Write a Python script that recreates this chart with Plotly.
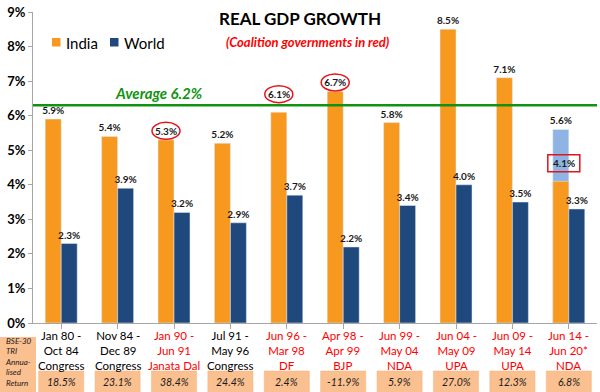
import plotly.graph_objects as go

periods = ["Jan 80 -<br>Oct 84<br>Congress", "Nov 84 -<br>Dec 89<br>Congress",
           "Jan 90 -<br>Jun 91<br>Janata Dal", "Jul 91 -<br>May 96<br>Congress",
           "Jun 96 -<br>Mar 98<br>DF", "Apr 98 -<br>Apr 99<br>BJP",
           "Jun 99 -<br>May 04<br>NDA", "Jun 04 -<br>May 09<br>UPA",
           "Jun 09 -<br>May 14<br>UPA", "Jun 14 -<br>Jun 20*<br>NDA"]
coalition = [False, False, True, False, True, True, True, True, True, True]
india = [5.9, 5.4, 5.3, 5.2, 6.1, 6.7, 5.8, 8.5, 7.1, 4.1]
india_est_last = 5.6
world = [2.3, 3.9, 3.2, 2.9, 3.7, 2.2, 3.4, 4.0, 3.5, 3.3]
bse_returns = ["18.5%", "23.1%", "38.4%", "24.4%", "2.4%", "-11.9%", "5.9%", "27.0%", "12.3%", "6.8%"]
series_names = ["India", "World"]
circled = [2, 4, 5]
raised = [4]  # label lifted above the average line
average = 6.2
average_line = 6.3

W, H = 600, 392
L, R, T, B = 33, 3, 12, 69
PW, PH = W - L - R, H - T - B

def px_x(px):
    return (px - L) / PW

def px_y(py):
    return (H - B - py) / PH

def ann(x, y, text, font, xanchor="center", yanchor="middle", **kw):
    d = dict(xref="paper", yref="paper", x=x, y=y, text=text, showarrow=False, font=font,
             xanchor=xanchor, yanchor=yanchor, borderpad=0)
    d.update(kw)
    return d

n = len(periods)
xs = list(range(n))
FONT = "Lato"
ORANGE = "#F7991F"
NAVY = "#1F497D"
LIGHT = "#8DB4E2"
PEACH = "#FAC090"
RED = "#FF0000"
GREEN = "#119311"

fig = go.Figure()
lbl_font = dict(family=FONT, size=10, color="#1a1a1a", weight="bold")

india_text = [("" if (i in raised or i == n - 1) else f"{v}%") for i, v in enumerate(india)]

fig.add_trace(go.Bar(x=[xs[-1]], y=[india_est_last], marker_color=LIGHT, offsetgroup="a",
                     text=[f"{india_est_last}%"], textposition="outside", textfont=lbl_font,
                     constraintext="none", showlegend=False, cliponaxis=False, hoverinfo="skip"))
fig.add_trace(go.Bar(x=xs, y=india, name=series_names[0], marker_color=ORANGE, offsetgroup="a",
                     text=india_text, textposition="outside",
                     textfont=lbl_font, constraintext="none", cliponaxis=False, showlegend=False))
fig.add_trace(go.Bar(x=xs, y=world, name=series_names[1], marker_color=NAVY, offsetgroup="b",
                     text=[f"{v}%" for v in world], textposition="outside",
                     textfont=lbl_font, constraintext="none", cliponaxis=False, showlegend=False))

shapes = []
annotations = []

# manual legend
for k, (sx, col) in enumerate([(52, ORANGE), (110, NAVY)]):
    shapes.append(dict(type="rect", xref="paper", yref="paper", x0=px_x(sx), x1=px_x(sx + 8.5),
                       y0=px_y(46.5), y1=px_y(38), fillcolor=col, line=dict(width=0)))
    annotations.append(ann(px_x(sx + 12.5), px_y(42.5), series_names[k],
                           dict(family=FONT, size=15, color="#000"), xanchor="left"))

# average line
shapes.append(dict(type="line", xref="paper", yref="y", x0=0, x1=1, y0=average_line, y1=average_line,
                   line=dict(color=GREEN, width=2.5)))
annotations.append(ann(px_x(159), px_y(93), f"<b><i>Average {average}%</i></b>",
                       dict(family=FONT, size=15, color=GREEN)))

bw = 0.2835
# raised labels
for i in raised:
    annotations.append(dict(xref="x", yref="y", x=i - bw / 2, y=india[i], yshift=18,
                            xanchor="center", yanchor="middle", text=f"{india[i]}%",
                            showarrow=False, font=lbl_font))
# circles
for i in circled:
    c = 18 if i in raised else 9
    shapes.append(dict(type="circle", xref="x", yref="y", xsizemode="pixel", ysizemode="pixel",
                       xanchor=i - bw / 2, yanchor=india[i], x0=-14, x1=14, y0=c - 8.5, y1=c + 8.5,
                       line=dict(color="#E3141B", width=1.5)))
# 4.1% box
shapes.append(dict(type="rect", xref="x", yref="y", xsizemode="pixel", ysizemode="pixel",
                   xanchor=xs[-1] - bw / 2, yanchor=india[-1], x0=-13, x1=19, y0=9.5, y1=26.5,
                   line=dict(color="#E3141B", width=1.5)))
annotations.append(dict(xref="x", yref="y", x=xs[-1] - bw / 2, y=india[-1], yshift=18, xshift=3,
                        xanchor="center", yanchor="middle",
                        text=f"{india[-1]}%", showarrow=False, font=lbl_font))

# title
annotations.append(ann(px_x(300), px_y(18), "<b>REAL GDP GROWTH</b>", dict(family=FONT, size=17, color="#000")))
annotations.append(ann(px_x(308), px_y(42), "<b><i>(Coalition governments in red)</i></b>",
                       dict(family=FONT, size=13, color=RED)))

# bottom labels and return boxes
for i in range(n):
    cx = (i + 0.5) / n
    annotations.append(ann(cx, px_y(350.5), periods[i],
                           dict(family=FONT, size=11.5, color=RED if coalition[i] else "#000")))
    shapes.append(dict(type="rect", xref="paper", yref="paper", x0=cx - 0.04, x1=cx + 0.04,
                       y0=px_y(393), y1=px_y(371), fillcolor=PEACH, line=dict(color="#F5B27A", width=0.5),
                       layer="below"))
    annotations.append(ann(cx, px_y(382), f"<i>{bse_returns[i]}</i>",
                           dict(family=FONT, size=10.5, color="#1a1a1a")))

shapes.append(dict(type="rect", xref="paper", yref="paper", x0=px_x(-1), x1=px_x(36),
                   y0=px_y(393), y1=px_y(337), fillcolor=PEACH, line=dict(width=0), layer="below"))
annotations.append(ann(px_x(4), px_y(362), "<i>BSE-30<br>TRI<br>Annua-<br>lised<br>Return</i>",
                       dict(family=FONT, size=8, color="#1a1a1a"), xanchor="left", align="left"))

fig.update_layout(
    width=W, height=H, margin=dict(l=L, r=R, t=T, b=B, autoexpand=False),
    paper_bgcolor="white", plot_bgcolor="white",
    barmode="group", bargap=0.433, bargroupgap=0,
    shapes=shapes, annotations=annotations,
    showlegend=False,
    font=dict(family=FONT),
)
fig.update_xaxes(range=[-0.5, n - 0.5], tickvals=xs, ticktext=[""] * n, showline=True,
                 linecolor="#A6A6A6", linewidth=1, ticks="outside", tickson="boundaries",
                 ticklen=5, tickcolor="#A6A6A6", showgrid=False, zeroline=False, automargin=False)
fig.update_yaxes(range=[0, 9], dtick=1, ticksuffix="%", showline=True, linecolor="#A6A6A6",
                 linewidth=1, ticks="outside", ticklen=4, tickcolor="#A6A6A6", showgrid=False,
                 zeroline=False, automargin=False,
                 tickfont=dict(family=FONT, size=13, color="#000", weight="bold"))

fig.write_html("out.html", config={"displayModeBar": False},
               post_script="document.body.style.margin='0';document.body.style.padding='0';")
